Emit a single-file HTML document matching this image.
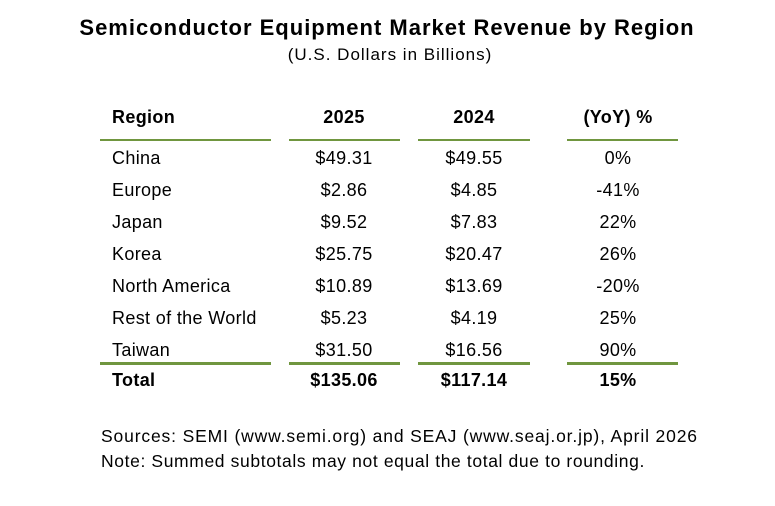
<!DOCTYPE html>
<html><head><style>
body{margin:0;width:775px;height:506px;background:#fff;font-family:"Liberation Sans",Arial,sans-serif;color:#000;position:relative;overflow:hidden}
.a{position:absolute;white-space:nowrap;line-height:1}
.c{transform:translateX(-50%)}
.t{font-size:18px;letter-spacing:0.35px}
.b{font-weight:bold}
.ln{position:absolute;background:#70963f}
</style></head><body>
<div class="a c b" style="left:387px;top:17px;font-size:22px;letter-spacing:1px">Semiconductor Equipment Market Revenue by Region</div>
<div class="a c" style="left:390px;top:46px;font-size:17px;letter-spacing:1px">(U.S. Dollars in Billions)</div>

<div class="a t b" style="left:112px;top:108px">Region</div>
<div class="a t b c" style="left:344px;top:108px">2025</div>
<div class="a t b c" style="left:474px;top:108px">2024</div>
<div class="a t b c" style="left:618px;top:108px">(YoY) %</div>

<div class="ln" style="left:100px;top:139px;width:171px;height:1.5px"></div>
<div class="ln" style="left:289px;top:139px;width:111px;height:1.5px"></div>
<div class="ln" style="left:418px;top:139px;width:112px;height:1.5px"></div>
<div class="ln" style="left:567px;top:139px;width:111px;height:1.5px"></div>

<div class="a t" style="left:112px;top:149px">China</div><div class="a t c" style="left:344px;top:149px">$49.31</div><div class="a t c" style="left:474px;top:149px">$49.55</div><div class="a t c" style="left:618px;top:149px">0%</div>
<div class="a t" style="left:112px;top:181px">Europe</div><div class="a t c" style="left:344px;top:181px">$2.86</div><div class="a t c" style="left:474px;top:181px">$4.85</div><div class="a t c" style="left:618px;top:181px">-41%</div>
<div class="a t" style="left:112px;top:213px">Japan</div><div class="a t c" style="left:344px;top:213px">$9.52</div><div class="a t c" style="left:474px;top:213px">$7.83</div><div class="a t c" style="left:618px;top:213px">22%</div>
<div class="a t" style="left:112px;top:245px">Korea</div><div class="a t c" style="left:344px;top:245px">$25.75</div><div class="a t c" style="left:474px;top:245px">$20.47</div><div class="a t c" style="left:618px;top:245px">26%</div>
<div class="a t" style="left:112px;top:277px">North America</div><div class="a t c" style="left:344px;top:277px">$10.89</div><div class="a t c" style="left:474px;top:277px">$13.69</div><div class="a t c" style="left:618px;top:277px">-20%</div>
<div class="a t" style="left:112px;top:309px">Rest of the World</div><div class="a t c" style="left:344px;top:309px">$5.23</div><div class="a t c" style="left:474px;top:309px">$4.19</div><div class="a t c" style="left:618px;top:309px">25%</div>
<div class="a t" style="left:112px;top:341px">Taiwan</div><div class="a t c" style="left:344px;top:341px">$31.50</div><div class="a t c" style="left:474px;top:341px">$16.56</div><div class="a t c" style="left:618px;top:341px">90%</div>

<div class="ln" style="left:100px;top:362px;width:171px;height:2.5px"></div>
<div class="ln" style="left:289px;top:362px;width:111px;height:2.5px"></div>
<div class="ln" style="left:418px;top:362px;width:112px;height:2.5px"></div>
<div class="ln" style="left:567px;top:362px;width:111px;height:2.5px"></div>

<div class="a t b" style="left:112px;top:371px">Total</div><div class="a t b c" style="left:344px;top:371px">$135.06</div><div class="a t b c" style="left:474px;top:371px">$117.14</div><div class="a t b c" style="left:618px;top:371px">15%</div>

<div class="a" style="left:101px;top:428px;font-size:17.5px;letter-spacing:0.85px">Sources: SEMI (www.semi.org) and SEAJ (www.seaj.or.jp), April 2026</div>
<div class="a" style="left:101px;top:453px;font-size:17.5px;letter-spacing:0.62px">Note: Summed subtotals may not equal the total due to rounding.</div>
</body></html>
